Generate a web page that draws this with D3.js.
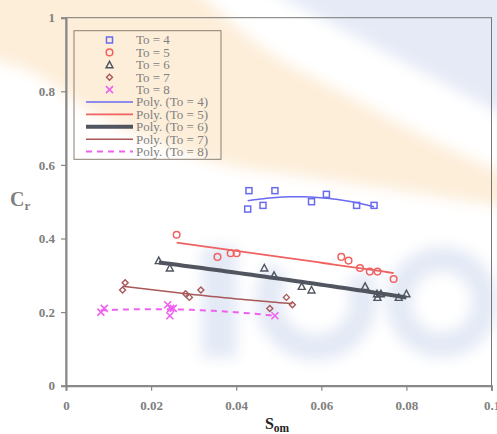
<!DOCTYPE html>
<html><head><meta charset="utf-8">
<script src="https://cdn.jsdelivr.net/npm/d3@7"></script>
<style>html,body{margin:0;padding:0;background:#fff;}svg{display:block;}</style>
</head><body>
<svg id="chart" width="497" height="434"></svg>
<script>
// ---- data ----
const seriesNames = ["To = 4", "To = 5", "To = 6", "To = 7", "To = 8"];
const trendNames = ["Poly. (To = 4)", "Poly. (To = 5)", "Poly. (To = 6)", "Poly. (To = 7)", "Poly. (To = 8)"];
const to4X = [0.0430, 0.0427, 0.0463, 0.0491, 0.0577, 0.0612, 0.0683, 0.0724];
const to4Y = [0.53, 0.48, 0.49, 0.53, 0.50, 0.52, 0.49, 0.49];
const to5X = [0.0260, 0.0356, 0.0387, 0.0401, 0.0647, 0.0664, 0.0691, 0.0714, 0.0732, 0.0770];
const to5Y = [0.41, 0.35, 0.36, 0.36, 0.35, 0.34, 0.32, 0.31, 0.31, 0.29];
const to6X = [0.0218, 0.0244, 0.0466, 0.0489, 0.0554, 0.0577, 0.0703, 0.0731, 0.0732, 0.0740, 0.0782, 0.0800];
const to6Y = [0.34, 0.32, 0.32, 0.30, 0.27, 0.26, 0.27, 0.25, 0.24, 0.25, 0.24, 0.25];
const to7X = [0.0133, 0.0139, 0.0281, 0.0290, 0.0317, 0.0479, 0.0518, 0.0532];
const to7Y = [0.26, 0.28, 0.25, 0.24, 0.26, 0.21, 0.24, 0.22];
const to8X = [0.0082, 0.0090, 0.0239, 0.0246, 0.0244, 0.0252, 0.0491];
const to8Y = [0.20, 0.21, 0.22, 0.21, 0.19, 0.21, 0.19];
const xTicks = [0, 0.02, 0.04, 0.06, 0.08, 0.1];
const xTickLabels = ["0", "0.02", "0.04", "0.06", "0.08", "0.1"];
const yTicks = [0, 0.2, 0.4, 0.6, 0.8, 1];
const yTickLabels = ["0", "0.2", "0.4", "0.6", "0.8", "1"];

// ---- styles ----
const colors = ["#6a6af0", "#f06262", "#50555f", "#a85858", "#f060f0"];
const shapes = ["square", "circle", "triangle", "diamond", "cross"];
const lineWidths = [1.5, 1.8, 4, 1.5, 2];
const dashes = [null, null, null, null, "6,5"];

const xs = [to4X, to5X, to6X, to7X, to8X];
const ys = [to4Y, to5Y, to6Y, to7Y, to8Y];
const series = seriesNames.map((n, i) => ({name: n, trend: trendNames[i],
  pts: xs[i].map((x, j) => ({x: x, y: ys[i][j]}))}));

const svg = d3.select("#chart");
const W = 497, H = 434;
const x = d3.scaleLinear().domain([0, 0.1]).range([66, 491.5]);
const y = d3.scaleLinear().domain([0, 1]).range([385.7, 17.7]);

// ---- watermark background ----
const defs = svg.append("defs");
const f = defs.append("filter").attr("id", "blur").attr("x", "-20%").attr("y", "-20%").attr("width", "140%").attr("height", "140%");
f.append("feGaussianBlur").attr("stdDeviation", 7);
const wm = svg.append("g").attr("filter", "url(#blur)");
wm.append("rect").attr("x", -20).attr("y", -20).attr("width", W + 40).attr("height", H + 40).attr("fill", "#ffffff");
wm.append("path").attr("d", "M250,-20 L520,-20 L520,125 C440,80 360,40 250,-20 Z").attr("fill", "#e5eaf6");
wm.append("path").attr("d", "M-20,-20 L185,-20 C230,20 260,50 300,70 C360,100 440,150 520,178 L520,210 C440,196 360,186 300,176 C250,170 220,165 200,158 C130,135 90,115 60,90 C40,75 20,64 -20,58 Z").attr("fill", "#fdeed9");
const lc = "#e3e9f5";
wm.append("rect").attr("x", 202).attr("y", 246).attr("width", 35).attr("height", 112).attr("fill", lc);
wm.append("path").attr("d", d3.arc()({innerRadius: 34, outerRadius: 61, startAngle: 0.33 * Math.PI, endAngle: 1.72 * Math.PI}))
  .attr("transform", "translate(316,300)").attr("fill", lc);
wm.append("path").attr("d", d3.arc()({innerRadius: 30, outerRadius: 56, startAngle: 0, endAngle: 2 * Math.PI}))
  .attr("transform", "translate(442,302)").attr("fill", lc);

// ---- frame ----
svg.append("rect").attr("x", 66).attr("y", 17.7).attr("width", 425.5).attr("height", 368)
  .attr("fill", "none").attr("stroke", "#777").attr("stroke-width", 1);

// axes
const fontSerif = "'Liberation Serif','Times New Roman',serif";
const gx = svg.append("g").attr("transform", "translate(0,385.7)")
  .call(d3.axisBottom(x).tickValues(xTicks).tickFormat((d, i) => xTickLabels[i]).tickSize(5).tickPadding(10));
const gy = svg.append("g").attr("transform", "translate(66,0)")
  .call(d3.axisLeft(y).tickValues(yTicks).tickFormat((d, i) => yTickLabels[i]).tickSize(5).tickPadding(6));
[gx, gy].forEach(g => {
  g.select(".domain").attr("stroke", "#888").attr("stroke-width", 2);
  g.selectAll(".tick line").attr("stroke", "#888").attr("stroke-width", 1.2);
  g.selectAll(".tick text").attr("fill", "#808080").attr("font-family", fontSerif)
    .attr("font-weight", "bold").attr("font-size", 13);
});

// axis titles
const xt = svg.append("text").attr("x", 277).attr("y", 429).attr("text-anchor", "middle")
  .attr("font-family", fontSerif).attr("font-weight", "bold").attr("font-size", 16).attr("fill", "#222");
xt.append("tspan").text("S");
xt.append("tspan").attr("font-size", 11.5).attr("dy", 3).text("om");
const yt = svg.append("text").attr("x", 10).attr("y", 206)
  .attr("font-family", fontSerif).attr("font-weight", "bold").attr("font-size", 20).attr("fill", "#808080");
yt.append("tspan").text("C");
yt.append("tspan").attr("font-size", 13).attr("dy", 4).text("r");

// ---- polynomial (order 2) trendlines, least squares from the data ----
function polyfit2(pts) {
  let n = pts.length, sx = 0, sx2 = 0, sx3 = 0, sx4 = 0, sy = 0, sxy = 0, sx2y = 0;
  const mx = d3.mean(pts, p => p.x);
  pts.forEach(p => { const t = p.x - mx; sx += t; sx2 += t*t; sx3 += t*t*t; sx4 += t*t*t*t; sy += p.y; sxy += t*p.y; sx2y += t*t*p.y; });
  const A = [[n, sx, sx2], [sx, sx2, sx3], [sx2, sx3, sx4]], b = [sy, sxy, sx2y];
  for (let i = 0; i < 3; i++) {
    for (let k = i + 1; k < 3; k++) {
      const fct = A[k][i] / A[i][i];
      for (let j = i; j < 3; j++) A[k][j] -= fct * A[i][j];
      b[k] -= fct * b[i];
    }
  }
  const c = [0, 0, 0];
  for (let i = 2; i >= 0; i--) {
    let s = b[i];
    for (let j = i + 1; j < 3; j++) s -= A[i][j] * c[j];
    c[i] = s / A[i][i];
  }
  return xv => c[0] + c[1] * (xv - mx) + c[2] * (xv - mx) * (xv - mx);
}

const line = d3.line().x(d => x(d[0])).y(d => y(d[1]));
const plot = svg.append("g");
series.forEach((s, i) => {
  const fn = polyfit2(s.pts);
  const [lo, hi] = d3.extent(s.pts, p => p.x);
  const samples = d3.range(0, 41).map(k => { const xv = lo + (hi - lo) * k / 40; return [xv, fn(xv)]; });
  plot.append("path").attr("d", line(samples)).attr("fill", "none").attr("stroke", colors[i])
    .attr("stroke-width", lineWidths[i]).attr("stroke-dasharray", dashes[i]);
});

function drawMarker(g, shape, cx, cy, color) {
  if (shape === "square") {
    g.append("rect").attr("x", cx - 3).attr("y", cy - 3).attr("width", 6).attr("height", 6)
      .attr("fill", "none").attr("stroke", color).attr("stroke-width", 1.5);
  } else if (shape === "circle") {
    g.append("circle").attr("cx", cx).attr("cy", cy).attr("r", 3.3)
      .attr("fill", "none").attr("stroke", color).attr("stroke-width", 1.5);
  } else if (shape === "triangle") {
    g.append("path").attr("d", `M${cx},${cy - 3.5}L${cx + 3.5},${cy + 3}L${cx - 3.5},${cy + 3}Z`)
      .attr("fill", "none").attr("stroke", color).attr("stroke-width", 1.4);
  } else if (shape === "diamond") {
    g.append("path").attr("d", `M${cx},${cy - 3}L${cx + 3},${cy}L${cx},${cy + 3}L${cx - 3},${cy}Z`)
      .attr("fill", "none").attr("stroke", color).attr("stroke-width", 1.4);
  } else {
    g.append("path").attr("d", `M${cx - 3.5},${cy - 3.5}L${cx + 3.5},${cy + 3.5}M${cx - 3.5},${cy + 3.5}L${cx + 3.5},${cy - 3.5}`)
      .attr("fill", "none").attr("stroke", color).attr("stroke-width", 1.6);
  }
}
series.forEach((s, i) => {
  s.pts.forEach(p => drawMarker(plot, shapes[i], x(p.x), y(p.y), colors[i]));
});

// ---- legend ----
const lg = svg.append("g");
lg.append("rect").attr("x", 74).attr("y", 30.7).attr("width", 147).attr("height", 128.6)
  .attr("fill", "none").attr("stroke", "#8a7f72").attr("stroke-width", 1);
const rowY = d3.range(10).map(k => 40 + k * 12.4);
series.forEach((s, i) => {
  drawMarker(lg, shapes[i], 109.5, rowY[i], colors[i]);
  lg.append("text").attr("x", 136).attr("y", rowY[i] + 4.3).text(s.name)
    .attr("font-family", fontSerif).attr("font-size", 13).attr("fill", "#808080");
});
series.forEach((s, i) => {
  const yy = rowY[5 + i];
  lg.append("line").attr("x1", 86).attr("x2", 133).attr("y1", yy).attr("y2", yy)
    .attr("stroke", colors[i]).attr("stroke-width", lineWidths[i]).attr("stroke-dasharray", dashes[i]);
  lg.append("text").attr("x", 136).attr("y", yy + 4.3).text(s.trend)
    .attr("font-family", fontSerif).attr("font-size", 13).attr("fill", "#808080");
});
</script>
</body></html>
